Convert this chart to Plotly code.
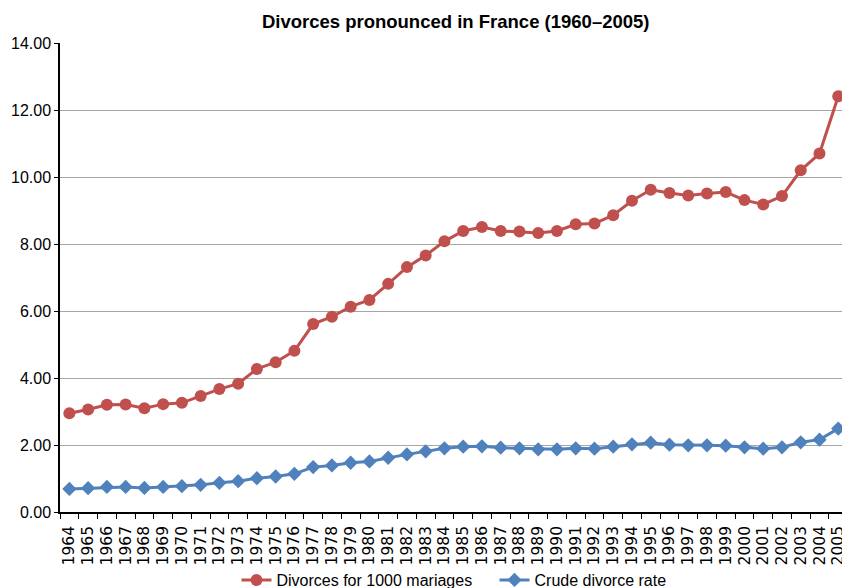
import plotly.graph_objects as go

years = [str(y) for y in range(1964, 2006)]
divorces_per_1000_marriages = [
    2.95, 3.06, 3.20, 3.21, 3.10, 3.22, 3.26, 3.46, 3.67, 3.83,
    4.27, 4.47, 4.81, 5.61, 5.83, 6.13, 6.33, 6.81, 7.31, 7.66,
    8.08, 8.39, 8.51, 8.39, 8.37, 8.33, 8.39, 8.59, 8.61, 8.86,
    9.29, 9.62, 9.52, 9.45, 9.51, 9.55, 9.31, 9.18, 9.43, 10.20,
    10.70, 12.41,
]
crude_divorce_rate = [
    0.69, 0.71, 0.75, 0.75, 0.72, 0.75, 0.77, 0.81, 0.87, 0.92,
    1.01, 1.06, 1.14, 1.34, 1.39, 1.47, 1.51, 1.62, 1.72, 1.81,
    1.90, 1.95, 1.96, 1.92, 1.90, 1.87, 1.87, 1.90, 1.89, 1.95,
    2.02, 2.07, 2.01, 1.99, 1.99, 1.98, 1.93, 1.89, 1.93, 2.08,
    2.16, 2.49,
]
y_ticks = [0, 2, 4, 6, 8, 10, 12, 14]

RED = "#C0504D"
BLUE = "#4F81BD"
FONT = "Liberation Sans, Arial, Helvetica, sans-serif"

fig = go.Figure()
fig.add_trace(go.Scatter(
    x=years, y=divorces_per_1000_marriages, name="Divorces for 1000 mariages",
    mode="lines+markers", line=dict(color=RED, width=3),
    marker=dict(symbol="circle", size=12, color=RED), cliponaxis=False,
))
fig.add_trace(go.Scatter(
    x=years, y=crude_divorce_rate, name="Crude divorce rate",
    mode="lines+markers", line=dict(color=BLUE, width=3),
    marker=dict(symbol="diamond", size=11, color=BLUE), cliponaxis=False,
))

fig.update_layout(
    width=842, height=588,
    margin=dict(l=60, r=0, t=43, b=76, autoexpand=False),
    paper_bgcolor="white", plot_bgcolor="white",
    font=dict(family=FONT, size=16, color="black"),
    title=dict(text="<b>Divorces pronounced in France (1960–2005)</b>",
               x=0.506, xref="paper", xanchor="center",
               y=1 - 22 / 588, yref="container", yanchor="middle",
               font=dict(size=18.5)),
    showlegend=True,
    legend=dict(orientation="h", x=0.2257, xanchor="left", y=-0.145,
                yanchor="middle", yref="paper", font=dict(size=16),
                entrywidth=213, entrywidthmode="pixels",
                itemwidth=30, bgcolor="rgba(0,0,0,0)"),
    xaxis=dict(type="category", range=[-0.5, 41.2], tickson="boundaries",
               tickmode="linear", dtick=1, tick0=0,
               ticks="outside", ticklen=5, tickcolor="black",
               ticklabelstandoff=6,
               showline=True, linecolor="black", linewidth=1.5,
               showgrid=False, tickangle=-90,
               tickfont=dict(size=15.5, family="DejaVu Sans, sans-serif"),
               automargin=False, fixedrange=True),
    yaxis=dict(range=[0, 14], tickvals=y_ticks, tickformat=".2f",
               ticks="outside", ticklen=4, tickcolor="black",
               showline=True, linecolor="black", linewidth=1.5,
               showgrid=True, gridcolor="#a6a6a6", gridwidth=1,
               zeroline=False, tickfont=dict(size=16), automargin=False),
)

fig.write_html(
    "out.html",
    config={"displayModeBar": False},
    post_script="document.body.style.margin='0';document.body.style.overflow='hidden';",
)
